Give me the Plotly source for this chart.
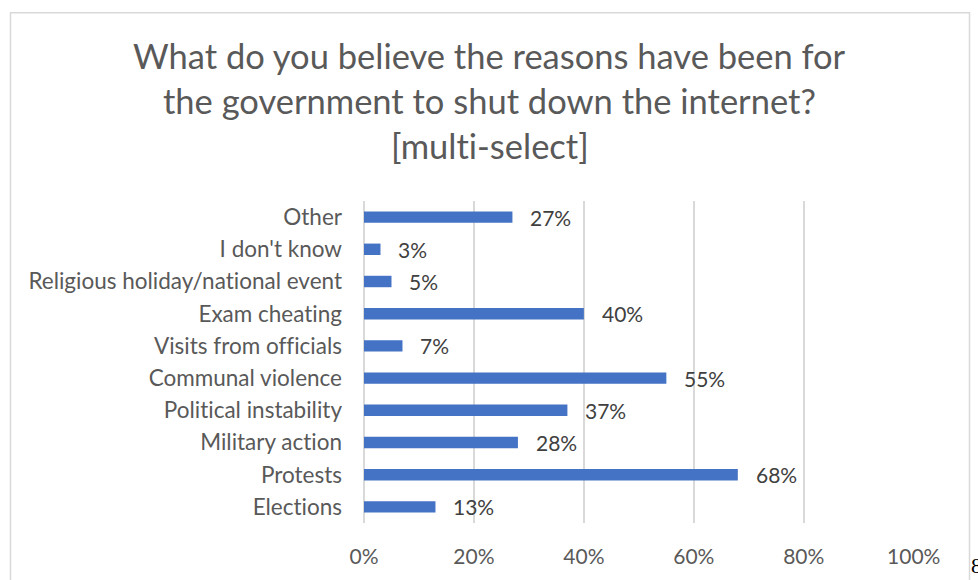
import plotly.graph_objects as go

# Survey responses (share of respondents, multi-select)
categories = [
    "Elections",
    "Protests",
    "Military action",
    "Political instability",
    "Communal violence",
    "Visits from officials",
    "Exam cheating",
    "Religious holiday/national event",
    "I don't know",
    "Other",
]
shares = [0.13, 0.68, 0.28, 0.37, 0.55, 0.07, 0.40, 0.05, 0.03, 0.27]
tick_values = [0, 0.2, 0.4, 0.6, 0.8, 1.0]
tick_labels = ["0%", "20%", "40%", "60%", "80%", "100%"]
title_lines = [
    "What do you believe the reasons have been for",
    "the government to shut down the internet?",
    "[multi-select]",
]

W, H = 978, 580
ML, MR, MT, MB = 364, 64, 201, 55
PW, PH = W - ML - MR, H - MT - MB

FONT = "Lato"
BLUE = "#4472C4"
GREY_TXT = "#595959"
DARK_TXT = "#404040"
GRID = "#D9D9D9"


def px_x(x):
    return (x - ML) / PW


def px_y(y):
    return (H - MB - y) / PH


def no_liga(s):
    # keep "ti"/"fi" as separate glyphs (Lato would otherwise join them)
    return s.replace("ti", "t\u200ci").replace("ffi", "f\u200cf\u200ci")


fig = go.Figure(
    go.Bar(
        x=shares,
        y=categories,
        orientation="h",
        marker=dict(color=BLUE, line=dict(width=0)),
        hoverinfo="skip",
    )
)

annotations = []
# value labels to the right of each bar
for cat, v in zip(categories, shares):
    annotations.append(
        dict(
            x=v, y=cat, xref="x", yref="y",
            text=f"{round(v * 100)}%",
            showarrow=False, xanchor="left", yanchor="middle", xshift=16,
            font=dict(family=FONT, size=21, color=DARK_TXT),
        )
    )

# chart title, one annotation per line
for line, yc in zip(title_lines, [55, 100, 145]):
    annotations.append(
        dict(
            x=px_x(489.5), y=px_y(yc), xref="paper", yref="paper",
            text=no_liga(line), showarrow=False, xanchor="center", yanchor="middle",
            font=dict(family=FONT, size=34.5, color=GREY_TXT),
        )
    )

# page number beside the chart frame
annotations.append(
    dict(
        x=px_x(969), y=px_y(568), xref="paper", yref="paper",
        text="8", showarrow=False, xanchor="left", yanchor="middle",
        font=dict(family="Liberation Serif", size=22, color="#000000"),
    )
)

fig.update_layout(
    width=W,
    height=H,
    margin=dict(l=ML, r=MR, t=MT, b=MB),
    paper_bgcolor="white",
    plot_bgcolor="white",
    showlegend=False,
    bargap=0.645,
    annotations=annotations,
    shapes=[
        dict(
            type="rect", xref="paper", yref="paper",
            x0=px_x(10.5), x1=px_x(969.5), y0=px_y(600), y1=px_y(11.5),
            line=dict(color=GRID, width=1.5), fillcolor="rgba(0,0,0,0)",
            layer="below",
        )
    ],
    xaxis=dict(
        range=[0, 1.0005],
        tickvals=tick_values,
        ticktext=tick_labels,
        showgrid=True,
        gridcolor=GRID,
        gridwidth=1.5,
        zeroline=True,
        zerolinecolor=GRID,
        zerolinewidth=1.5,
        showline=False,
        ticks="",
        ticklabelstandoff=19,
        tickfont=dict(family=FONT, size=21, color=GREY_TXT),
        fixedrange=True,
    ),
    yaxis=dict(
        categoryorder="array",
        categoryarray=categories,
        tickvals=categories,
        ticktext=[no_liga(c) for c in categories],
        showgrid=False,
        zeroline=False,
        showline=False,
        ticks="",
        ticklabelstandoff=21,
        tickfont=dict(family=FONT, size=22.5, color=GREY_TXT),
        fixedrange=True,
    ),
)

fig.write_html("out.html")
